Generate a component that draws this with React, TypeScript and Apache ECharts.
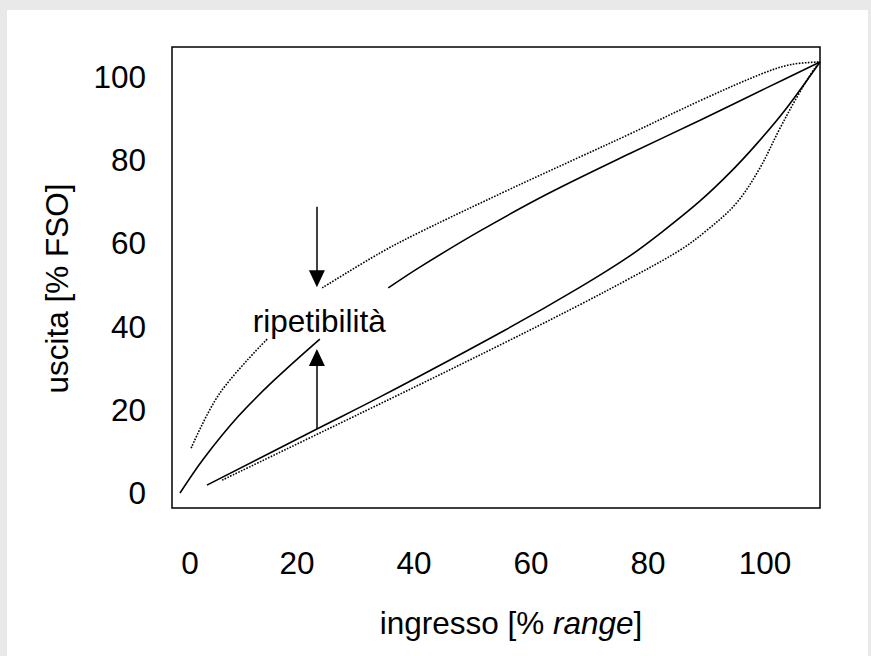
import React, { useEffect, useRef } from 'react';
import * as echarts from 'echarts';

const FONT = '"Liberation Sans", Arial, Helvetica, sans-serif';
const FS = 31.5;

// tick labels
const xTicks = [0, 20, 40, 60, 80, 100];
const yTicks = [0, 20, 40, 60, 80, 100];

// curves: [ingresso %, uscita %]
const solidUpperA = [[0, 0], [4.0, 8.2], [10.0, 18.5], [16.0, 27.0], [23.9, 37.0]];
const solidUpperB = [[35.6, 49.3], [41.0, 54.3], [51.3, 63.0], [62.7, 71.8], [76.9, 81.6], [88.9, 89.6], [100.0, 97.2], [109.4, 103.6]];
const solidLower = [[4.6, 1.9], [23.4, 15.4], [34.2, 23.1], [55.6, 39.2], [68.4, 49.5], [76.9, 57.0], [82.9, 63.3], [88.9, 70.2], [94.0, 77.0], [98.5, 83.8], [103.4, 92.0], [109.4, 103.6]];
const dottedUpperA = [[1.9, 10.8], [6.8, 24.0], [14.9, 37.0]];
const dottedUpperB = [[24.3, 49.3], [34.2, 57.7], [41.0, 62.7], [55.6, 72.5], [68.4, 80.8], [76.9, 86.3], [88.9, 94.3], [99.7, 100.9], [104.5, 103.0], [109.4, 103.6]];
const dottedLower = [[7.2, 3.1], [35.9, 22.6], [55.6, 36.2], [68.4, 45.3], [76.9, 51.6], [85.5, 58.4], [90.1, 63.2], [95.0, 69.5], [99.0, 77.8], [102.5, 87.5], [105.6, 95.5], [108.2, 101.5], [109.4, 103.6]];

// annotation (repeatability): arrow shaft start and arrowhead centre
const arrowX = 23.4;
const downArrow = [68.8, 51.5];
const upArrow = [15.4, 32.6];
const annotationText = 'ripetibilità';
const annotationPos = [23.9, 41.2];

const solidStyle = { color: '#000', width: 1.6, type: 'solid' };
const dottedStyle = { color: '#000', width: 1.6, type: [1.6, 1.4] };

function lineSeries(name: string, data: number[][], style: any) {
  return {
    name,
    type: 'line',
    data,
    smooth: 0.35,
    showSymbol: false,
    symbol: 'none',
    silent: true,
    lineStyle: style,
    emphasis: { disabled: true },
  };
}

export default function App() {
  const ref = useRef<HTMLDivElement>(null);
  useEffect(() => {
    if (!ref.current) return;
    const chart = echarts.init(ref.current, null, { renderer: 'svg' });
    const option: any = {
      animation: false,
      textStyle: { fontFamily: FONT, color: '#000' },
      grid: {
        left: 172,
        right: 51,
        top: 47,
        bottom: 148,
        show: true,
        borderColor: '#000',
        borderWidth: 1.5,
        backgroundColor: '#fff',
      },
      xAxis: {
        type: 'value',
        min: -1.37,
        max: 109.4,
        axisLine: { show: false, onZero: false },
        axisTick: { show: false },
        splitLine: { show: false },
        axisLabel: {
          customValues: xTicks,
          margin: 39,
          fontSize: FS,
          color: '#000',
          fontFamily: FONT,
          formatter: (v: number) => (v === 0 ? '{z|0}' : String(v)),
          rich: { z: { padding: [0, 0, 0, 20], fontSize: FS, color: '#000', fontFamily: FONT } },
        },
        name: '{n|ingresso [% }{i|range}{n|]}',
        nameLocation: 'middle',
        nameGap: 99,
        nameTextStyle: {
          padding: [0, 0, 0, 30],
          rich: {
            n: { fontSize: FS, color: '#000', fontFamily: FONT },
            i: { fontSize: FS, color: '#000', fontFamily: FONT, fontStyle: 'italic' },
          },
        },
      },
      yAxis: {
        type: 'value',
        min: -3.6,
        max: 107.2,
        axisLine: { show: false, onZero: false },
        axisTick: { show: false },
        splitLine: { show: false },
        axisLabel: {
          customValues: yTicks,
          margin: 26,
          fontSize: FS,
          color: '#000',
          fontFamily: FONT,
        },
        name: 'uscita [% FSO]',
        nameLocation: 'middle',
        nameGap: 99,
        nameTextStyle: { fontSize: FS, color: '#000', fontFamily: FONT, padding: [0, 22, 0, 0] },
      },
      series: [
        lineSeries('solidUpperA', solidUpperA, solidStyle),
        lineSeries('solidUpperB', solidUpperB, solidStyle),
        lineSeries('solidLower', solidLower, solidStyle),
        lineSeries('dottedUpperA', dottedUpperA, dottedStyle),
        lineSeries('dottedUpperB', dottedUpperB, dottedStyle),
        lineSeries('dottedLower', dottedLower, dottedStyle),
        {
          name: 'annotation',
          type: 'scatter',
          data: [annotationPos],
          symbolSize: 1,
          silent: true,
          itemStyle: { color: 'rgba(0,0,0,0)' },
          emphasis: { disabled: true },
          label: {
            show: true,
            position: [0, 0],
            align: 'center',
            verticalAlign: 'middle',
            formatter: annotationText,
            fontSize: FS,
            color: '#000',
            opacity: 1,
            fontFamily: FONT,
            textBorderWidth: 0,
          },
          markLine: {
            silent: true,
            symbol: ['none', 'triangle'],
            symbolSize: [16, 17],
            label: { show: false },
            emphasis: { disabled: true },
            lineStyle: { color: '#000', width: 1.5, type: 'solid' },
            data: [
              [{ coord: [arrowX, downArrow[0]] }, { coord: [arrowX, downArrow[1]] }],
              [{ coord: [arrowX, upArrow[0]] }, { coord: [arrowX, upArrow[1]] }],
            ],
          },
        },
      ],
    };
    chart.setOption(option);
    return () => chart.dispose();
  }, []);

  return (
    <div style={{ position: 'fixed', left: 0, top: 0, width: 871, height: 656, background: '#e9e9e9' }}>
      <div style={{ position: 'absolute', left: 7, top: 10, width: 861, height: 646, background: '#fff' }} />
      <div ref={ref} style={{ position: 'absolute', left: 0, top: 0, width: 871, height: 656 }} />
    </div>
  );
}
